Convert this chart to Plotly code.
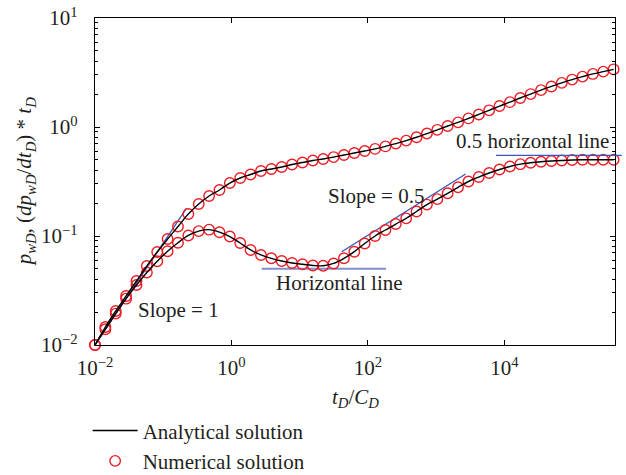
import numpy as np
import plotly.graph_objects as go

# Dimensionless time t_D / C_D at the sampled points
t_d = [0.01, 0.01419, 0.02014, 0.02858, 0.04055, 0.05754, 0.08166, 0.1159, 0.1644,
       0.2333, 0.3311, 0.4699, 0.6668, 0.9462, 1.343, 1.905, 2.704, 3.837, 5.445,
       7.727, 10.96, 15.56, 22.08, 31.33, 44.46, 63.10, 89.54, 127.1, 180.3, 255.9,
       363.1, 515.2, 731.1, 1038, 1472, 2089, 2965, 4207, 5970, 8472, 12020, 17060,
       24210, 34360, 48750, 69180, 98170, 139300, 197700, 280500, 398100]

# Dimensionless wellbore pressure p_wD
p_wd = [0.0100, 0.01462, 0.02051, 0.02818, 0.03864, 0.05309, 0.07129, 0.09376, 0.1222,
        0.1592, 0.1968, 0.2328, 0.2642, 0.3062, 0.3404, 0.3664, 0.3945, 0.4121, 0.4295,
        0.4529, 0.4721, 0.4932, 0.5093, 0.5297, 0.5534, 0.5781, 0.6026, 0.6295, 0.6637,
        0.7047, 0.7499, 0.8054, 0.8710, 0.9419, 1.021, 1.102, 1.199, 1.303, 1.422,
        1.556, 1.690, 1.845, 2.004, 2.178, 2.355, 2.541, 2.723, 2.897, 3.069, 3.221, 3.381]

# Pressure derivative (dp_wD/dt_D) * t_D
deriv = [0.0100, 0.01396, 0.01941, 0.02661, 0.03548, 0.04624, 0.05861, 0.07244, 0.08670,
         0.1012, 0.1109, 0.1143, 0.1084, 0.0989, 0.0863, 0.0745, 0.0670, 0.0624, 0.0590,
         0.0566, 0.0550, 0.0537, 0.0533, 0.0560, 0.0624, 0.0718, 0.0853, 0.1000, 0.1135,
         0.1288, 0.1452, 0.1679, 0.1941, 0.2178, 0.2466, 0.2799, 0.3162, 0.3475, 0.3784,
         0.4074, 0.4345, 0.4560, 0.4699, 0.4797, 0.4875, 0.4932, 0.4977, 0.5000, 0.5000,
         0.5000, 0.5000]

# Axis ticks and their labels
x_tickvals = [0.01, 1, 100, 10000]
x_ticktext = ["10<sup>−2</sup>", "10<sup>0</sup>", "10<sup>2</sup>", "10<sup>4</sup>"]
y_tickvals = [0.01, 0.1, 1, 10]
y_ticktext = ["10<sup>−2</sup>", "10<sup>−1</sup>", "10<sup>0</sup>", "10<sup>1</sup>"]
y_minorvals = [m * d for d in (0.01, 0.1, 1) for m in range(2, 10)]

x_title = "<i>t</i><sub><i>D</i></sub>/<i>C</i><sub><i>D</i></sub>"
y_title = ("<i>p</i><sub><i>wD</i></sub>, (<i>dp</i><sub><i>wD</i></sub>/"
           "<i>dt</i><sub><i>D</i></sub>) * <i>t</i><sub><i>D</i></sub>")

# Flow-regime guide lines: (x0, x1), (y0, y1)
slope1_x, slope1_y = [0.01, 0.22], [0.01, 0.18]
horiz_x, horiz_y = [2.77, 184.0], [0.05, 0.05]
slope05_x, slope05_y = [41.2, 2700.0], [0.0718, 0.371]
half_x0, half_y = 7520.0, 0.55

X_RANGE = [-2, 5.62]
Y_RANGE = [-2, 1]

FONT = "Liberation Serif, Times New Roman, serif"
FS = 21
TXT = "#231f20"
RED = "#ee1c24"
BLUE = "#3a55b8"
LIGHT_BLUE = "#7f8fcf"

fig = go.Figure()

# Guide lines
fig.add_trace(go.Scatter(x=slope1_x, y=slope1_y, mode="lines",
                         line=dict(color=BLUE, width=1.3), showlegend=False, hoverinfo="skip"))
fig.add_trace(go.Scatter(x=horiz_x, y=horiz_y, mode="lines",
                         line=dict(color=LIGHT_BLUE, width=2), showlegend=False, hoverinfo="skip"))
fig.add_trace(go.Scatter(x=slope05_x, y=slope05_y, mode="lines",
                         line=dict(color=BLUE, width=1.3), showlegend=False, hoverinfo="skip"))

# Numerical solution (markers)
for i, ys in enumerate([p_wd, deriv]):
    fig.add_trace(go.Scatter(
        x=t_d, y=ys, mode="markers", name="Numerical solution",
        legendgroup="num", showlegend=(i == 0), legendrank=2, cliponaxis=False,
        marker=dict(symbol="circle-open", size=10.5, color=RED, line=dict(width=1.4, color=RED)),
    ))

# Analytical solution (lines)
for i, ys in enumerate([p_wd, deriv]):
    fig.add_trace(go.Scatter(
        x=t_d, y=ys, mode="lines", name="Analytical solution",
        legendgroup="ana", showlegend=(i == 0), legendrank=1,
        line=dict(color="black", width=1.4, shape="spline"),
    ))

# 0.5 horizontal line runs slightly past the right edge of the frame
def xpaper(v):
    return (np.log10(v) - X_RANGE[0]) / (X_RANGE[1] - X_RANGE[0])

def ypaper(v):
    return (np.log10(v) - Y_RANGE[0]) / (Y_RANGE[1] - Y_RANGE[0])

fig.add_shape(type="line", xref="paper", yref="paper",
              x0=xpaper(half_x0), x1=1.013, y0=ypaper(half_y), y1=ypaper(half_y),
              line=dict(color=BLUE, width=1.3), layer="above")

labels = [
    ("Slope = 1", 0.170, 0.021),
    ("Horizontal line", 37.7, 0.037),
    ("Slope = 0.5", 131.0, 0.233),
    ("0.5 horizontal line", 25800.0, 0.745),
]
for text, xv, yv in labels:
    fig.add_annotation(x=np.log10(xv), y=np.log10(yv), xref="x", yref="y",
                       text=text, showarrow=False, xanchor="center", yanchor="middle",
                       font=dict(family=FONT, size=FS, color=TXT))

# Axis titles
fig.add_annotation(x=-0.135, y=0.5, xref="paper", yref="paper", text=y_title,
                   textangle=-90, showarrow=False, xanchor="center", yanchor="middle",
                   font=dict(family=FONT, size=FS, color=TXT))
fig.add_annotation(x=0.5, y=-0.162, xref="paper", yref="paper", text=x_title,
                   showarrow=False, xanchor="center", yanchor="middle",
                   font=dict(family=FONT, size=FS, color=TXT))

axis_common = dict(
    type="log", showgrid=False, zeroline=False,
    showline=True, linecolor="black", linewidth=1.3, mirror="ticks",
    ticks="inside", tickcolor="black", tickwidth=1, ticklen=5,
    tickfont=dict(family=FONT, size=FS, color=TXT),
)

fig.update_xaxes(
    **axis_common, range=X_RANGE, tickmode="array",
    tickvals=x_tickvals, ticktext=x_ticktext, ticklabelstandoff=4,
)
fig.update_yaxes(
    **axis_common, range=Y_RANGE, tickmode="array",
    tickvals=y_tickvals, ticktext=y_ticktext, ticklabelstandoff=12,
    minor=dict(tickmode="array", tickvals=y_minorvals, ticks="inside", ticklen=3,
               tickcolor="black", tickwidth=1, showgrid=False),
)

fig.update_layout(
    width=626, height=475,
    margin=dict(l=95, r=11, t=18, b=130, autoexpand=False),
    paper_bgcolor="white", plot_bgcolor="white",
    font=dict(family=FONT, size=FS, color=TXT),
    showlegend=True,
    legend=dict(xref="container", yref="container", x=0.14, y=0.136,
                xanchor="left", yanchor="top",
                bgcolor="rgba(0,0,0,0)", font=dict(family=FONT, size=FS, color=TXT),
                tracegroupgap=0, itemwidth=45),
)

fig.write_html("out.html")
